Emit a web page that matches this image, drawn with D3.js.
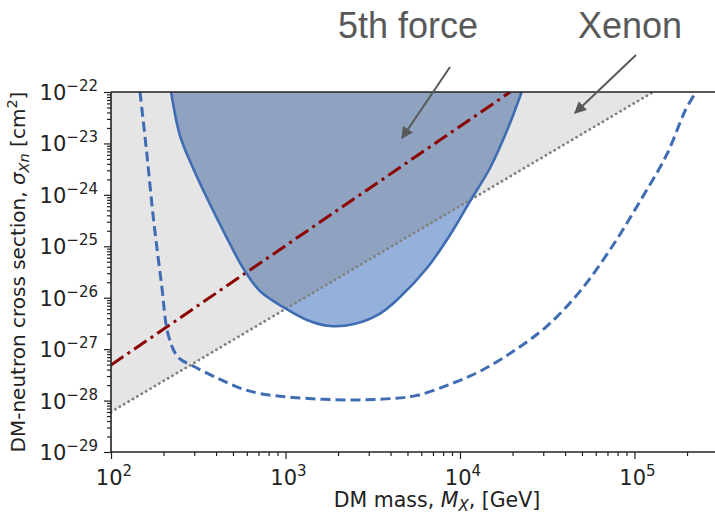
<!DOCTYPE html>
<html>
<head>
<meta charset="utf-8">
<script src="https://cdn.jsdelivr.net/npm/d3@7"></script>
<style>
  body { margin: 0; background: #fff; }
  text { font-family: "DejaVu Sans", sans-serif; }
</style>
</head>
<body>
<svg id="chart" width="715" height="516"></svg>
<script>
// 5th force exclusion boundary (solid blue, filled)
const fifthMass  = [221, 249, 295, 364, 456, 571, 714, 968, 1328, 1799, 2470, 3479, 4531, 6470, 8765, 11410, 14860, 18520, 22570];
const fifthSigma = [1e-22, 1.39e-23, 3.33e-24, 7.26e-25, 1.58e-25, 3.78e-26, 1.35e-26, 6.61e-27, 3.69e-27, 2.82e-27, 3.08e-27, 4.93e-27, 1.03e-26, 3.78e-26, 1.66e-25, 7.5e-25, 3.33e-24, 1.72e-23, 1e-22];

// projected reach (dashed blue)
const reachMass  = [146.6, 160, 175, 195, 213, 242, 295, 405, 549, 714, 1104, 2251, 4130, 5670, 8765, 13020, 20200, 31400, 48700, 75600, 107500, 152900, 196000, 225100];
const reachSigma = [1e-22, 6.9e-24, 3.5e-25, 1.77e-26, 1.88e-27, 7.03e-28, 4.7e-28, 2.75e-28, 1.75e-28, 1.37e-28, 1.15e-28, 1.03e-28, 1.1e-28, 1.26e-28, 2.08e-28, 3.71e-28, 9.08e-28, 2.78e-27, 1.33e-26, 1.07e-25, 7.5e-25, 6.04e-24, 4.47e-23, 1e-22];

// dash-dot dark red line
const redMass  = [100, 19400];
const redSigma = [4.9e-28, 1e-22];

// Xenon bound (dotted grey), excluded region above it
const xenonMass  = [100, 128000];
const xenonSigma = [6.0e-29, 1e-22];

const xTickExp = [2, 3, 4, 5];
const yTickExp = [-29, -28, -27, -26, -25, -24, -23, -22];

const svg = d3.select("#chart");
const plotLeft = 111, plotTop = 92, plotBottom = 452;

const x = d3.scaleLog().domain([1e2, 1e6]).range([plotLeft, plotLeft + 4 * 174.5]);
const y = d3.scaleLog().domain([1e-29, 1e-22]).range([plotBottom, plotTop]);

svg.append("clipPath").attr("id", "plot")
  .append("rect").attr("x", plotLeft).attr("y", plotTop)
  .attr("width", 715 - plotLeft).attr("height", plotBottom - plotTop);

const line = d3.line().x(d => x(d[0])).y(d => y(d[1]));
const smooth = d3.line().x(d => x(d[0])).y(d => y(d[1])).curve(d3.curveCatmullRom.alpha(0.5));

const fifthPts = fifthMass.map((m, i) => [m, fifthSigma[i]]);
const reachPts = reachMass.map((m, i) => [m, reachSigma[i]]);
const redPts = redMass.map((m, i) => [m, redSigma[i]]);
const xenonPts = xenonMass.map((m, i) => [m, xenonSigma[i]]);
const greyPoly = xenonPts.concat([[1e2, 1e-22]]);

const g = svg.append("g").attr("clip-path", "url(#plot)");

// excluded by Xenon
g.append("path").attr("d", line(greyPoly) + "Z").attr("fill", "#e5e5e5");

// 5th force region
const fifthPath = smooth(fifthPts) + "Z";
svg.append("clipPath").attr("id", "fifth").append("path").attr("d", fifthPath);
g.append("path").attr("d", fifthPath).attr("fill", "#95b0da");
g.append("g").attr("clip-path", "url(#fifth)")
  .append("path").attr("d", line(greyPoly) + "Z").attr("fill", "#8fa3c1");

// lines
g.append("path").attr("d", line(xenonPts)).attr("fill", "none")
  .attr("stroke", "#808080").attr("stroke-width", 2.8)
  .attr("stroke-dasharray", "0.1 5").attr("stroke-linecap", "round");
g.append("path").attr("d", line(redPts)).attr("fill", "none")
  .attr("stroke", "#8b0000").attr("stroke-width", 3)
  .attr("stroke-dasharray", "15 5 3 5");
g.append("path").attr("d", smooth(fifthPts)).attr("fill", "none")
  .attr("stroke", "#3f6cb2").attr("stroke-width", 2.6);
g.append("path").attr("d", smooth(reachPts)).attr("fill", "none")
  .attr("stroke", "#3f6cb2").attr("stroke-width", 3)
  .attr("stroke-dasharray", "10 5");

// axes
const minorX = [];
for (let e = 2; e < 6; e++) for (let k = 2; k < 10; k++) minorX.push(k * Math.pow(10, e));
const minorY = [];
for (let e = -29; e < -22; e++) for (let k = 2; k < 10; k++) minorY.push(k * Math.pow(10, e));

const axX = svg.append("g").attr("transform", `translate(0,${plotBottom})`);
axX.append("g").call(d3.axisBottom(x).tickValues(minorX).tickSize(4).tickFormat(""));
axX.append("g").call(d3.axisBottom(x).tickValues(xTickExp.map(e => Math.pow(10, e))).tickSize(7).tickFormat(""));
const axY = svg.append("g").attr("transform", `translate(${plotLeft},0)`);
axY.append("g").call(d3.axisLeft(y).tickValues(minorY).tickSize(4).tickFormat(""));
axY.append("g").call(d3.axisLeft(y).tickValues(yTickExp.map(e => Math.pow(10, e))).tickSize(7).tickFormat(""));
svg.selectAll(".domain").remove();
svg.selectAll(".tick line").attr("stroke", "#222").attr("stroke-width", 1.2);

// spines
svg.append("line").attr("x1", plotLeft).attr("x2", 715).attr("y1", plotBottom).attr("y2", plotBottom)
  .attr("stroke", "#222").attr("stroke-width", 1.6);
svg.append("line").attr("x1", plotLeft).attr("x2", 715).attr("y1", plotTop).attr("y2", plotTop)
  .attr("stroke", "#222").attr("stroke-width", 1.6);
svg.append("line").attr("x1", plotLeft).attr("x2", plotLeft).attr("y1", plotTop).attr("y2", plotBottom)
  .attr("stroke", "#222").attr("stroke-width", 1.6);

// tick labels
xTickExp.forEach(e => {
  const t = svg.append("text").attr("x", x(Math.pow(10, e)) + 3).attr("y", 485)
    .attr("text-anchor", "middle").attr("font-size", 21).attr("fill", "#222");
  t.append("tspan").text("10");
  t.append("tspan").attr("font-size", 15).attr("dy", -9).text(e);
});
yTickExp.forEach(e => {
  const t = svg.append("text").attr("x", 98).attr("y", y(Math.pow(10, e)) + 8)
    .attr("text-anchor", "end").attr("font-size", 21).attr("fill", "#222");
  t.append("tspan").text("10");
  t.append("tspan").attr("font-size", 15).attr("dy", -9).text("\u2212" + Math.abs(e));
});

// axis labels
const xl = svg.append("text").attr("x", 437).attr("y", 507).attr("text-anchor", "middle")
  .attr("font-size", 20.5).attr("fill", "#222");
xl.append("tspan").text("DM mass, ");
xl.append("tspan").attr("font-style", "italic").text("M");
xl.append("tspan").attr("font-style", "italic").attr("font-size", 15).attr("dy", 4).text("X");
xl.append("tspan").attr("dy", -4).text(", [GeV]");

const yl = svg.append("text").attr("transform", "translate(25,272) rotate(-90)")
  .attr("text-anchor", "middle").attr("font-size", 20).attr("fill", "#222");
yl.append("tspan").text("DM-neutron cross section, ");
yl.append("tspan").attr("font-style", "italic").text("\u03c3");
yl.append("tspan").attr("font-style", "italic").attr("font-size", 14.5).attr("dy", 4).text("Xn");
yl.append("tspan").attr("dy", -4).text(" [cm");
yl.append("tspan").attr("font-size", 14.5).attr("dy", -8).text("2");
yl.append("tspan").attr("dy", 8).text("]");

// annotations
const notes = [
  { label: "5th force", tx: 408, ty: 38, from: [450, 67], to: [402, 138] },
  { label: "Xenon", tx: 630, ty: 38, from: [636, 55], to: [575, 113] }
];
svg.append("defs").append("marker").attr("id", "head")
  .attr("viewBox", "0 0 10 10").attr("refX", 9).attr("refY", 5)
  .attr("markerWidth", 6).attr("markerHeight", 6).attr("orient", "auto")
  .append("path").attr("d", "M0,0L10,5L0,10Z").attr("fill", "#595959");
notes.forEach(n => {
  svg.append("text").attr("x", n.tx).attr("y", n.ty).attr("text-anchor", "middle")
    .style("font-family", "'Liberation Sans', Arial, sans-serif")
    .attr("font-size", 36).attr("fill", "#595959").text(n.label);
  svg.append("line").attr("x1", n.from[0]).attr("y1", n.from[1])
    .attr("x2", n.to[0]).attr("y2", n.to[1])
    .attr("stroke", "#595959").attr("stroke-width", 2).attr("marker-end", "url(#head)");
});
</script>
</body>
</html>
